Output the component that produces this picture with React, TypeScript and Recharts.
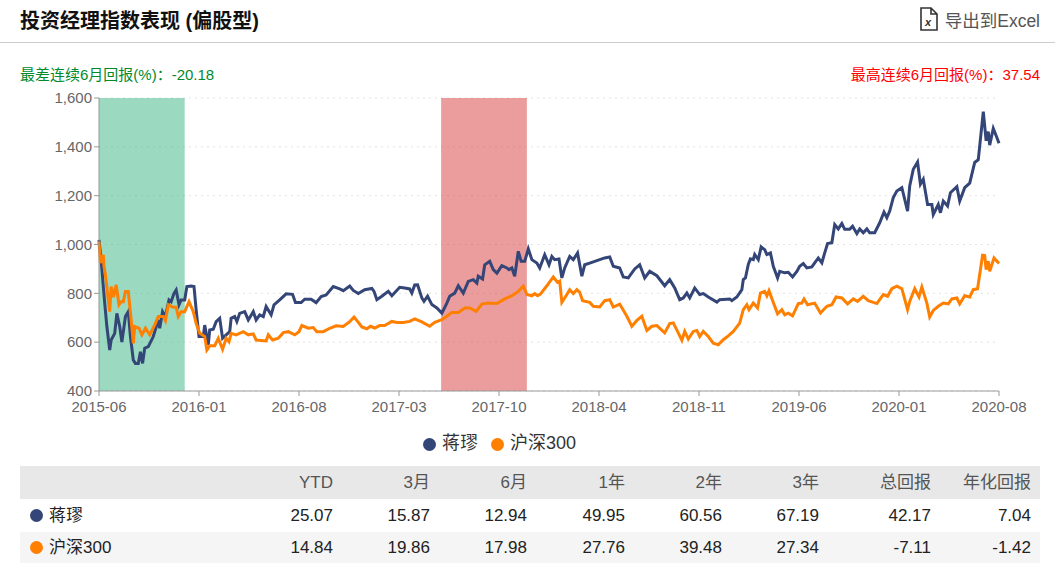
import React from "react";
import { LineChart, Line, XAxis, YAxis, CartesianGrid, Legend, ReferenceArea } from "recharts";

const FONT = '"Liberation Sans", "Noto Sans CJK SC", sans-serif';

// x is the trading day counted from the start of the series
const tickDays = [0, 140, 280, 420, 560, 700, 840, 980, 1120, 1260];
const tickLabels = ["2015-06", "2016-01", "2016-08", "2017-03", "2017-10", "2018-04", "2018-11", "2019-06", "2020-01", "2020-08"];
const yTicks = [400, 600, 800, 1000, 1200, 1400, 1600];

const managerDays = [
  0, 3, 6, 8, 11, 15, 17, 22, 25, 29, 32, 37, 41, 44, 48, 51, 55, 58, 61, 64, 69, 76, 83, 85, 89, 93, 98, 101, 105, 108,
  112, 115, 120, 123, 129, 133, 136, 140, 146, 148, 153, 155, 160, 164, 169, 173, 178, 183, 185, 190, 193, 197, 204, 209,
  216, 220, 225, 230, 234, 241, 245, 253, 262, 271, 275, 283, 288, 297, 304, 311, 318, 328, 337, 342, 351,
  356, 363, 372, 382, 385, 389, 396, 405, 410, 421, 428, 435, 438, 442, 446, 452, 455, 460, 466, 473, 480, 487, 491, 498,
  503, 510, 517, 524, 529, 531, 537, 540, 547, 552, 557, 564, 571, 574, 578, 582, 587, 591, 596, 601, 606, 613, 617, 624,
  630, 634, 638, 644, 648, 652, 659, 664, 670, 676, 680, 687, 694, 701, 708, 715, 720, 729, 734, 741, 750, 757, 764, 771,
  781, 792, 799, 806, 813, 818, 823, 827, 834, 841, 846, 853, 865, 869, 883, 886, 893, 900, 902, 905, 909, 912, 916, 918,
  923, 927, 932, 935, 940, 944, 950, 953, 960, 965, 971, 977, 981, 986, 991, 998, 1002, 1007, 1012, 1016, 1020, 1026,
  1030, 1035, 1040, 1044, 1051, 1055, 1061, 1065, 1070, 1075, 1079, 1086, 1093, 1099, 1103, 1107, 1112, 1117, 1124, 1132,
  1135, 1140, 1146, 1150, 1154, 1160, 1166, 1168, 1175, 1178, 1182, 1188, 1192, 1201, 1205, 1212, 1219, 1226, 1231, 1238,
  1242, 1245, 1247, 1252, 1257, 1260,
];
const managerValues = [
  1019, 937, 828, 760, 664, 568, 609, 636, 718, 664, 600, 705, 725, 623, 527, 513, 513, 561, 513, 575, 582, 623, 691, 657, 725, 705, 773, 766, 800, 814,
  753, 773, 773, 828, 830, 828, 732, 623, 623, 670, 589, 650, 653, 684, 698, 616, 630, 643, 698, 705, 684, 718, 725, 691,
  725, 691, 712, 705, 746, 712, 753, 773, 798, 796, 762, 762, 776, 776, 762, 787, 793, 828, 818, 811, 830,
  812, 799, 815, 820, 808, 774, 788, 808, 790, 825, 822, 818, 801, 834, 835, 781, 767, 788, 754, 740, 719, 760, 788, 801,
  831, 801, 849, 856, 842, 870, 859, 917, 931, 897, 883, 913, 904, 897, 904, 870, 972, 931, 931, 982, 938, 924, 904, 958,
  917, 951, 938, 941, 863, 904, 951, 938, 965, 870, 917, 924, 931, 938, 945, 949, 911, 904, 867, 863, 900, 917, 863, 890,
  872, 831, 856, 822, 774, 781, 801, 781, 822, 795, 799, 785, 764, 774, 777, 770, 785, 815, 856, 863, 918, 941, 938, 959,
  938, 990, 979, 959, 966, 911, 863, 890, 884, 886, 867, 890, 911, 922, 904, 908, 925, 945, 925, 966, 1004, 1007,
  1082, 1064, 1086, 1062, 1062, 1075, 1045, 1064, 1048, 1064, 1048, 1048, 1089, 1133, 1110, 1137, 1192, 1219, 1233, 1137,
  1240, 1308, 1338, 1247, 1267, 1164, 1164, 1123, 1164, 1130, 1178, 1158, 1212, 1237, 1178, 1233, 1251, 1336, 1347, 1544,
  1425, 1462, 1407, 1475, 1438, 1415,
];

const indexDays = [
  0, 2, 6, 7, 9, 13, 15, 17, 20, 24, 28, 31, 34, 37, 41, 45, 48, 50, 56, 60, 65, 71, 78, 83, 90, 93, 97, 104, 108, 111,
  115, 120, 126, 132, 136, 141, 148, 151, 155, 162, 167, 173, 178, 182, 185, 192, 202, 209, 216, 220, 234, 237, 243, 251,
  258, 265, 274, 280, 284, 293, 300, 305, 314, 323, 332, 342, 351,
  357, 362, 368, 375, 380, 386, 393, 400, 410, 417, 426, 435, 442, 452, 463, 470, 480, 487, 494, 503, 512, 519, 528, 536,
  545, 557, 568, 578, 587, 594, 599, 606, 610, 614, 618, 627, 636, 642, 645, 648, 655, 659, 664, 669, 673, 677, 687, 692,
  701, 708, 715, 720, 729, 739, 746, 753, 760, 767, 774, 781, 792, 799, 804, 811, 816, 820, 825, 832, 837, 841,
  846, 853, 860, 867, 874, 881, 888, 897, 902, 907, 910, 916, 922, 926, 932, 935, 938, 943, 950, 956, 960, 965, 971, 979,
  984, 987, 992, 1002, 1010, 1019, 1026, 1032, 1040, 1048, 1056, 1062, 1070, 1077, 1089, 1098, 1104, 1110, 1117, 1124, 1132,
  1135, 1142, 1148, 1152, 1159, 1163, 1168, 1175, 1182, 1189, 1194, 1201, 1205, 1212, 1219, 1224, 1230, 1237, 1240, 1242,
  1245, 1247, 1253, 1260,
];
const indexValues = [
  1012, 924, 958, 910, 876, 773, 725, 828, 784, 835, 753, 766, 766, 807, 807, 691, 595, 664, 657, 630, 657, 630, 671, 705, 705, 688, 753, 743, 743, 705,
  725, 725, 766, 725, 677, 636, 623, 568, 585, 585, 616, 571, 616, 602, 636, 630, 643, 630, 634, 609, 605, 630, 609, 616,
  639, 643, 630, 643, 668, 657, 660, 643, 643, 657, 667, 664, 684,
  703, 685, 662, 655, 665, 658, 668, 668, 685, 681, 681, 685, 695, 683, 665, 681, 692, 706, 722, 722, 740, 740, 726, 756,
  760, 758, 777, 790, 808, 829, 795, 790, 799, 790, 797, 831, 867, 845, 850, 763, 795, 815, 799, 815, 804, 770, 763, 747,
  744, 770, 774, 744, 756, 706, 665, 689, 706, 648, 665, 668, 638, 676, 679, 638, 608, 644, 613, 644, 648, 623,
  644, 623, 596, 589, 610, 626, 644, 678, 733, 753, 733, 760, 740, 801, 808, 790, 811, 771, 716, 733, 712, 719, 708, 758,
  760, 777, 753, 760, 719, 747, 753, 785, 781, 757, 777, 767, 788, 770, 758, 795, 788, 819, 829, 819, 733,
  767, 819, 785, 826, 760, 703, 730, 747, 760, 757, 777, 781, 757, 790, 785, 815, 819, 956, 955, 897,
  932, 890, 945, 922,
];

const managerName = "蒋璆";
const indexName = "沪深300";

const MANAGER_COLOR = "#344677";
const INDEX_COLOR = "#ff7f00";

// the two worst / best rolling six month windows
const worstWindow = [0, 120];
const bestWindow = [479, 599];

const tableHeads = ["YTD", "3月", "6月", "1年", "2年", "3年", "总回报", "年化回报"];
const managerReturns = ["25.07", "15.87", "12.94", "49.95", "60.56", "67.19", "42.17", "7.04"];
const indexReturns = ["14.84", "19.86", "17.98", "27.76", "39.48", "27.34", "-7.11", "-1.42"];
const columnRights = [333, 430, 527, 625, 722, 819, 931, 1031];

// both series have their own sample days, so merge them and let connectNulls bridge
const tableMap = new Map<number, { day: number; manager?: number; index?: number }>();
managerDays.forEach((day, i) => tableMap.set(day, { day, manager: managerValues[i] }));
indexDays.forEach((day, i) => tableMap.set(day, { ...(tableMap.get(day) || { day }), index: indexValues[i] }));
const chartData = Array.from(tableMap.values()).sort((a, b) => a.day - b.day);

function Row({ top, height, bg, color, label, values }: any) {
  return (
    <div style={{ position: "absolute", left: 20, top, width: 1020, height, background: bg, lineHeight: `${height}px`, fontSize: 17 }}>
      {color && <span style={{ position: "absolute", left: 10, top: height / 2 - 6.5, width: 13, height: 13, borderRadius: "50%", background: color }} />}
      {label && <span style={{ position: "absolute", left: 29, color: "#222" }}>{label}</span>}
      {values.map((v: string, i: number) => (
        <span key={i} style={{ position: "absolute", right: 1040 - columnRights[i], color: color ? "#222" : "#555" }}>{v}</span>
      ))}
    </div>
  );
}

export default function App() {
  return (
    <div style={{ position: "absolute", left: 0, top: 0, width: 1055, height: 563, overflow: "hidden", background: "#fff", fontFamily: FONT }}>
      <div style={{ position: "absolute", left: 20, top: 9, fontSize: 20, fontWeight: 700, color: "#111", lineHeight: "24px" }}>投资经理指数表现 (偏股型)</div>
      <svg style={{ position: "absolute", left: 919, top: 7 }} width="20" height="25" viewBox="0 0 20 25">
        <path d="M2 1 H12 L18 7 V23 H2 Z M12 1 V7 H18" fill="none" stroke="#333" strokeWidth="1.6" />
        <text x="6" y="19" fontSize="11" fontWeight="700" fontStyle="italic" fill="#333">x</text>
      </svg>
      <div style={{ position: "absolute", right: 15, top: 9, fontSize: 17.5, color: "#555", lineHeight: "24px" }}>导出到Excel</div>
      <div style={{ position: "absolute", left: 0, top: 42, width: 1055, height: 1, background: "#ccc" }} />
      <div style={{ position: "absolute", left: 20, top: 66, fontSize: 15, color: "#008a2e", lineHeight: "18px" }}>最差连续6月回报(%)：-20.18</div>
      <div style={{ position: "absolute", right: 15, top: 66, fontSize: 15, color: "#f00", lineHeight: "18px" }}>最高连续6月回报(%)：37.54</div>

      <div style={{ position: "absolute", left: 0, top: 0 }}>
        <LineChart width={1055} height={447} data={chartData} margin={{ top: 98, right: 56, bottom: 0, left: 0 }}>
          <CartesianGrid vertical={false} stroke="#e2e2e2" strokeDasharray="2 4" />
          <XAxis
            dataKey="day"
            type="number"
            domain={[0, 1260]}
            ticks={tickDays}
            interval={0}
            tickFormatter={(d: number) => tickLabels[tickDays.indexOf(d)]}
            tick={{ fontSize: 15, fill: "#666", dy: 3 }}
            stroke="#999"
            tickSize={5}
            height={30}
          />
          <YAxis
            width={99}
            domain={[400, 1600]}
            ticks={yTicks}
            interval={0}
            tickFormatter={(v: number) => v.toLocaleString("en-US")}
            tick={{ fontSize: 15, fill: "#666" }}
            stroke="#999"
            tickSize={5}
          />
          <ReferenceArea x1={worstWindow[0]} x2={worstWindow[1]} y1={400} y2={1600} fill="#37b381" fillOpacity={0.5} stroke="none" />
          <ReferenceArea x1={bestWindow[0]} x2={bestWindow[1]} y1={400} y2={1600} fill="#d83a3a" fillOpacity={0.5} stroke="none" />
          <Line dataKey="manager" name={managerName} stroke={MANAGER_COLOR} strokeWidth={3} dot={false} connectNulls type="linear" isAnimationActive={false} />
          <Line dataKey="index" name={indexName} stroke={INDEX_COLOR} strokeWidth={3} dot={false} connectNulls type="linear" isAnimationActive={false} />
          <Legend
            iconType="circle"
            iconSize={13}
            verticalAlign="bottom"
            itemSorter={null}
            wrapperStyle={{ position: "absolute", left: 421, width: 170, top: 428, fontSize: 18 }}
            formatter={(value: string) => <span style={{ color: "#333", marginLeft: 2, marginRight: 3 }}>{value}</span>}
          />
        </LineChart>
      </div>

      <Row top={466} height={33} bg="#e8e8e8" values={tableHeads} />
      <Row top={499} height={33} bg="#fff" color={MANAGER_COLOR} label={managerName} values={managerReturns} />
      <Row top={532} height={31} bg="#f5f5f5" color={INDEX_COLOR} label={indexName} values={indexReturns} />
    </div>
  );
}
